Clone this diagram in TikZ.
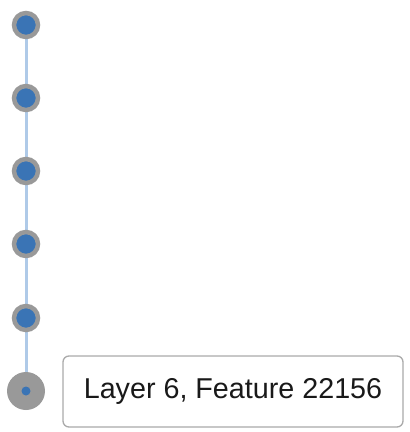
\documentclass[tikz,border=0pt]{standalone}
\usepackage{fontspec}
\setmainfont{Liberation Sans}
\definecolor{ringgray}{HTML}{999999}
\definecolor{dotblue}{HTML}{3A74B5}
\definecolor{linkblue}{HTML}{AFCAE8}
\definecolor{boxgray}{HTML}{AAAAAA}
\begin{document}
\begin{tikzpicture}[x=1pt,y=-1pt,
  feat/.style={circle,fill=dotblue,draw=ringgray,line width=4.5pt,minimum size=24pt,inner sep=0pt},
  outnode/.style={circle,fill=ringgray,minimum size=38pt,inner sep=0pt},
  link/.style={draw=linkblue,line width=3pt},
  label/.style={draw=boxgray,line width=1.3pt,rounded corners=6pt,fill=white,minimum width=340pt,minimum height=71pt,font=\fontsize{28.7}{34}\selectfont,text=black!90}]
\useasboundingbox (0,0) rectangle (410,432);
\coordinate (n1) at (26,25);
\coordinate (n2) at (26,98);
\coordinate (n3) at (26,171);
\coordinate (n4) at (26,244);
\coordinate (n5) at (26,318);
\coordinate (n6) at (26,391);
\draw[link] (n1) -- (n2) -- (n3) -- (n4) -- (n5) -- (n6);
\node[outnode] (o6) at (n6) {};
\node[circle,fill=dotblue,minimum size=9pt,inner sep=0pt] (d6) at (n6) {};
\foreach \i in {1,...,5}{\node[feat] (f\i) at (n\i) {};}
\node[label] (lab) at (233,391.5) {Layer 6, Feature 22156};
\end{tikzpicture}
\end{document}
